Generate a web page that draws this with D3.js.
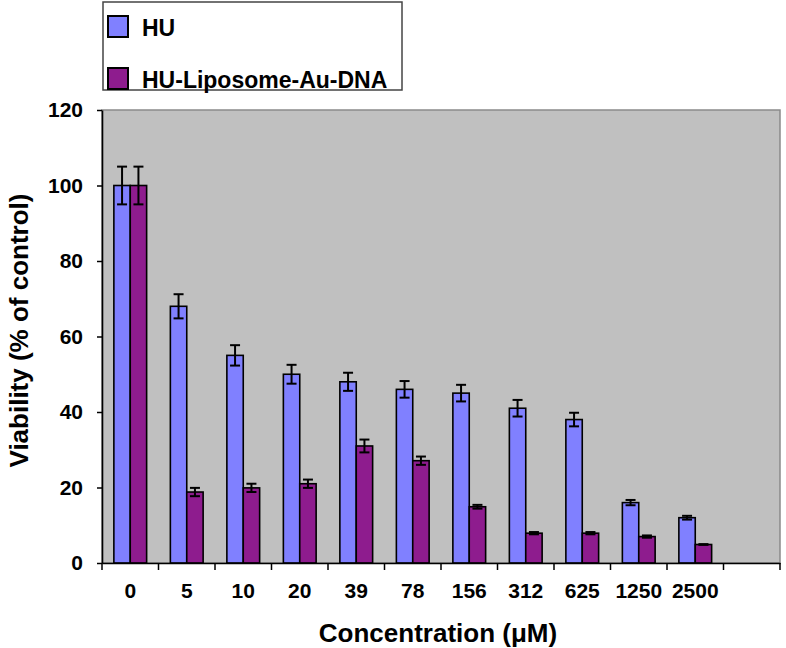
<!DOCTYPE html>
<html>
<head>
<meta charset="utf-8">
<script src="https://cdn.jsdelivr.net/npm/d3@7"></script>
<style>
  body { margin: 0; background: #fff; }
  text { font-family: "Liberation Sans", Arial, sans-serif; font-weight: bold; }
</style>
</head>
<body>
<svg id="chart"></svg>
<script>
/*chart data*/
const categories = ["0", "5", "10", "20", "39", "78", "156", "312", "625", "1250", "2500"];
const seriesNames = ["HU", "HU-Liposome-Au-DNA"];
const huValues = [100, 68, 55, 50, 48, 46, 45, 41, 38, 16, 12];
const huErrors = [5, 3.2, 2.7, 2.5, 2.4, 2.2, 2.2, 2.2, 1.8, 0.7, 0.5];
const lipoValues = [100, 18.8, 19.9, 21, 31, 27.1, 14.9, 7.9, 7.9, 7, 4.9];
const lipoErrors = [5, 1.1, 1.1, 1.1, 1.7, 1.1, 0.5, 0.3, 0.3, 0.3, 0.1];
const yTicks = [0, 20, 40, 60, 80, 100, 120];

const colors = ["#8080FF", "#8E1C8E"];

const width = 786;
const height = 648;
const plot = {left: 102, right: 780, top: 110, bottom: 563};

const svg = d3.select("#chart")
       .attr("width", width)
       .attr("height", height);

/*one empty slot at the end, like the original*/
const x = d3.scaleBand()
       .domain(categories.concat([" "]))
       .range([plot.left, plot.right])
       .paddingInner(0.42)
       .paddingOuter(0.21);

const xSub = d3.scaleBand()
       .domain(seriesNames)
       .range([0, x.bandwidth()]);

const y = d3.scaleLinear()
       .domain([0, 120])
       .range([plot.bottom, plot.top]);

/*grey plot area*/
svg.append("rect")
       .attr("x", plot.left)
       .attr("y", plot.top)
       .attr("width", plot.right - plot.left)
       .attr("height", plot.bottom - plot.top)
       .attr("fill", "#C0C0C0")
       .attr("stroke", "#8a8a8a")
       .attr("stroke-width", 1.5);

const series = [
       {name: seriesNames[0], values: huValues, errors: huErrors, color: colors[0]},
       {name: seriesNames[1], values: lipoValues, errors: lipoErrors, color: colors[1]}
];

const rows = [];
series.forEach(s => {
       s.values.forEach((v, i) => {
              rows.push({cat: categories[i], name: s.name, value: v, err: s.errors[i], color: s.color});
       });
});

const bars = svg.append("g").attr("id", "bars");

bars.selectAll("rect")
       .data(rows)
       .enter()
       .append("rect")
       .attr("x", d => x(d.cat) + xSub(d.name))
       .attr("y", d => y(d.value))
       .attr("width", xSub.bandwidth())
       .attr("height", d => y(0) - y(d.value))
       .attr("fill", d => d.color)
       .attr("stroke", "#000")
       .attr("stroke-width", 1.6);

/*error bars, both directions*/
const errG = svg.append("g").attr("id", "errors")
       .attr("stroke", "#000")
       .attr("stroke-width", 2);

const capHalf = 5;
rows.forEach(d => {
       const cx = x(d.cat) + xSub(d.name) + xSub.bandwidth() / 2;
       const y1 = y(d.value + d.err);
       const y2 = y(d.value - d.err);
       errG.append("line").attr("x1", cx).attr("x2", cx).attr("y1", y1).attr("y2", y2);
       errG.append("line").attr("x1", cx - capHalf).attr("x2", cx + capHalf).attr("y1", y1).attr("y2", y1);
       errG.append("line").attr("x1", cx - capHalf).attr("x2", cx + capHalf).attr("y1", y2).attr("y2", y2);
});

/*y axis*/
const yAxis = svg.append("g")
       .attr("transform", "translate(" + plot.left + ",0)")
       .call(d3.axisLeft(y).tickValues(yTicks).tickSize(5).tickPadding(14).tickSizeOuter(0));
yAxis.select(".domain").attr("stroke", "#000").attr("stroke-width", 1.6);
yAxis.selectAll(".tick line").attr("stroke", "#000").attr("stroke-width", 1.5);
yAxis.selectAll(".tick text")
       .attr("font-size", 21)
       .attr("font-family", "'Liberation Sans', Arial, sans-serif")
       .attr("font-weight", "bold")
       .attr("fill", "#000");

/*x axis: labels at band centres, ticks at band edges*/
const xAxis = svg.append("g")
       .attr("transform", "translate(0," + plot.bottom + ")")
       .call(d3.axisBottom(x).tickValues(categories).tickSize(0).tickPadding(20).tickSizeOuter(0));
xAxis.select(".domain").attr("stroke", "#000").attr("stroke-width", 1.6);
xAxis.selectAll(".tick text")
       .attr("font-size", 21)
       .attr("font-family", "'Liberation Sans', Arial, sans-serif")
       .attr("font-weight", "bold")
       .attr("fill", "#000");

const step = x.step();
const edges = d3.range(x.domain().length + 1).map(i => plot.left + i * step);
xAxis.selectAll(".edge")
       .data(edges)
       .enter()
       .append("line")
       .attr("class", "edge")
       .attr("x1", d => d).attr("x2", d => d)
       .attr("y1", 0).attr("y2", 7)
       .attr("stroke", "#000")
       .attr("stroke-width", 1.5);

/*axis titles*/
svg.append("text")
       .text("Concentration (\u03bcM)")
       .attr("x", (plot.left + plot.right) / 2 - 3)
       .attr("y", 642)
       .attr("text-anchor", "middle")
       .attr("font-size", 26);

svg.append("text")
       .text("Viability (% of control)")
       .attr("transform", "translate(28," + ((plot.top + plot.bottom) / 2 - 6) + ") rotate(-90)")
       .attr("text-anchor", "middle")
       .attr("font-size", 26);

/*legend*/
const legend = svg.append("g").attr("id", "legend");
legend.append("rect")
       .attr("x", 103).attr("y", 2)
       .attr("width", 299).attr("height", 88)
       .attr("fill", "#fff")
       .attr("stroke", "#444")
       .attr("stroke-width", 1.5);

series.forEach((s, i) => {
       const ly = 16 + i * 52;
       legend.append("rect")
              .attr("x", 108).attr("y", ly)
              .attr("width", 20).attr("height", 21)
              .attr("fill", s.color)
              .attr("stroke", "#000")
              .attr("stroke-width", 2);
       legend.append("text")
              .text(s.name)
              .attr("x", 142)
              .attr("y", ly + 20)
              .attr("font-size", 23);
});
</script>
</body>
</html>
